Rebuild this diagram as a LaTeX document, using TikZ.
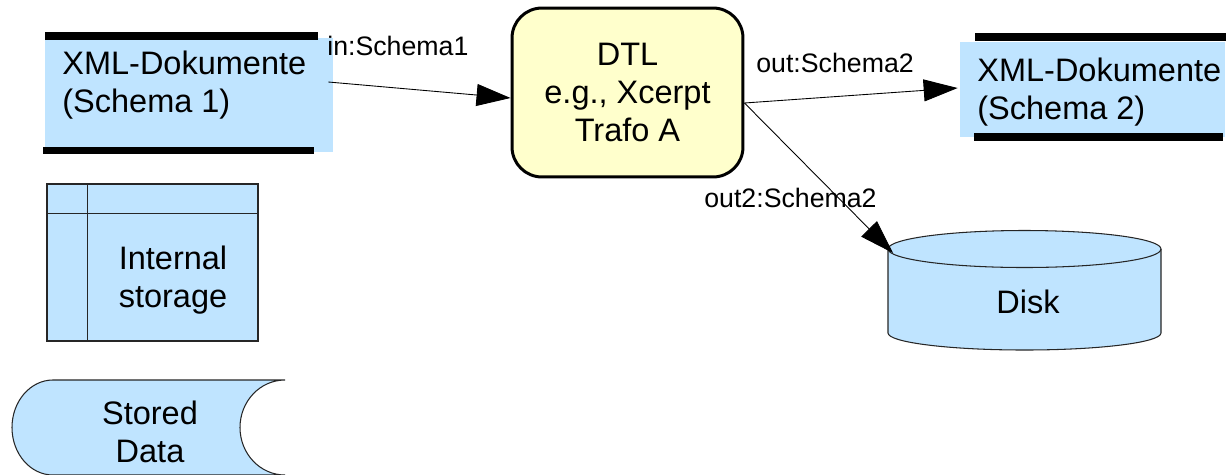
\documentclass[tikz,border=0pt]{standalone}
\usepackage{fontspec}
\setmainfont{Liberation Sans}
\usetikzlibrary{arrows.meta,positioning}
\definecolor{my_blue}{RGB}{191,228,255}
\definecolor{my_yellow}{RGB}{255,255,204}
\tikzset{
  docbox/.style = {draw=none, fill=my_blue, inner sep=0pt},
  doctext/.style = {align=left, inner sep=0pt, anchor=west},
  bar/.style = {line width=4pt, black},
  shapeline/.style = {draw=black!85, line width=0.6pt, fill=my_blue},
  lbl/.style = {inner sep=0pt, font=\fontsize{15.2}{18}\selectfont}
}

\begin{document}
\begin{tikzpicture}[x=0.02cm, y=0.02cm,
        every node/.style={font=\fontsize{18.5}{21.8}\selectfont},
        flow/.style={-{Triangle[length=0.68cm,width=0.44cm]}, line width=0.5pt},
        trafo/.style={draw, line width=1.7pt, fill=my_yellow, rounded corners=0.6cm,
          minimum width=4.62cm, minimum height=3.38cm, align=center}]
  \useasboundingbox (0,0) rectangle (1226,-474);

  % documents
  \node [docbox, minimum width=5.76cm, minimum height=2.28cm] (doc1) at (189,-95) {};
  \node [doctext] (doc1txt) at (62,-85) {XML-Dokumente\\(Schema 1)};
  \draw [bar] (45,-36) -- (318,-36);
  \draw [bar] (43,-150.5) -- (314,-150.5);

  \node [docbox, minimum width=5.3cm, minimum height=1.9cm] (doc2) at (1092.5,-89.5) {};
  \node [doctext] (doc2txt) at (977,-92) {XML-Dokumente\\(Schema 2)};
  \draw [bar] (975,-37) -- (1226,-37);
  \draw [bar] (974,-137) -- (1223,-137);

  % transformation
  \node [trafo] (dtl) at (627.5,-92.5) {DTL\\e.g., Xcerpt\\Trafo A};

  % disk
  \draw [shapeline] (888,-249) -- (888,-333)
    arc [start angle=180, end angle=360, x radius=136.5, y radius=17] -- (1161,-249)
    arc [start angle=0, end angle=180, x radius=136.5, y radius=18.5] -- cycle;
  \draw [draw=black!85, line width=0.6pt] (888,-249)
    arc [start angle=180, end angle=360, x radius=136.5, y radius=18.5];
  \node (disk) at (1028,-302) {Disk};
  \coordinate (diskin) at (893,-253);

  % internal storage
  \node [shapeline, draw, minimum width=4.22cm, minimum height=3.14cm] (intern) at (152.5,-262.5) {};
  \draw [draw=black!85, line width=0.6pt] ([shift={(41,0)}]intern.north west) -- ([shift={(41,0)}]intern.south west);
  \draw [draw=black!85, line width=0.6pt] ([shift={(0,-30)}]intern.north west) -- ([shift={(0,-30)}]intern.north east);
  \node [align=center] (interntxt) at (173,-280) {Internal\\storage};

  % stored data
  \draw [shapeline] (53,-380) -- (285,-380)
    arc [start angle=90, end angle=270, x radius=45, y radius=47.5] -- (53,-475)
    arc [start angle=270, end angle=90, x radius=41, y radius=47.5] -- cycle;
  \node [align=center] (stored) at (150,-432) {Stored\\Data};

  % flows
  \draw [flow] ([shift={(-5,13)}]doc1.east) -- ([yshift=-0.11cm]dtl.west);
  \draw [flow] ([yshift=-0.21cm]dtl.east) -- ([shift={(-2,1.5)}]doc2.west);
  \draw [flow] ([yshift=-0.21cm]dtl.east) -- (diskin);

  \node [lbl, anchor=west] (inlbl) at (327,-46) {in:Schema1};
  \node [lbl, anchor=west] (outlbl) at (756,-63) {out:Schema2};
  \node [lbl, anchor=west] (out2lbl) at (704,-198) {out2:Schema2};
\end{tikzpicture}
\end{document}
